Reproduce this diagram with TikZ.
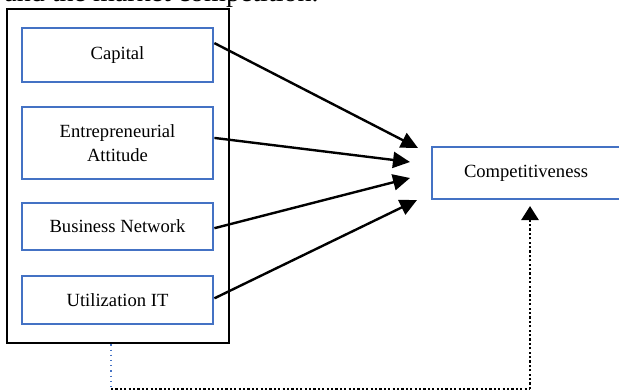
\documentclass[tikz,border=0pt]{standalone}
\usepackage{fontspec}
\setmainfont{Liberation Serif}
\usetikzlibrary{arrows.meta}
\definecolor{boxblue}{HTML}{4472C4}

\begin{document}
\begin{tikzpicture}[x=0.5pt, y=-0.5pt,
    factor/.style={draw=boxblue, line width=1.4pt, minimum width=95.5pt, align=center,
                   font=\fontsize{9.3}{12}\selectfont, inner sep=0pt},
    frame/.style={draw=black, line width=1.3pt, minimum width=111pt, minimum height=167pt},
    link/.style={line width=1.2pt, -{Triangle[length=8.5pt, width=8pt]}},
    dotline/.style={line width=1.3pt, dash pattern=on 1.1pt off 1.1pt}]
    \useasboundingbox (0,0) rectangle (619,391);
    \clip (0,0) rectangle (619,391);
    % cut off line of the text above
    \node[anchor=base west, inner sep=0pt, font=\fontsize{14}{16}\selectfont] (head) at (4,2) {and the market competition.};
    % independent variables
    \node[frame] (group) at (118,176) {};
    \node[factor, minimum height=27pt] (cap) at (117.5,55) {Capital};
    \node[factor, minimum height=36pt] (ent) at (117.5,143) {Entrepreneurial\\Attitude};
    \node[factor, minimum height=23.5pt] (net) at (117.5,226.5) {Business Network};
    \node[factor, minimum height=24pt] (uit) at (117.5,300) {Utilization IT};
    % dependent variable
    \node[factor, minimum width=94pt, minimum height=26pt] (comp) at (526,173) {Competitiveness};
    \coordinate (t1) at (418,148);
    \coordinate (t2) at (410,162);
    \coordinate (t3) at (410,178);
    \coordinate (t4) at (417,200);
    \coordinate (ctip) at (530,206);
    \coordinate (bend) at (111,389);
    \coordinate (corner) at (530,389);
    \draw[link] (cap.7) -- (t1);
    \draw[link] (ent.3) -- (t2);
    \draw[link] (net.-1) -- (t3);
    \draw[link] (uit.1) -- (t4);
    % simultaneous effect
    \draw[boxblue, line width=0.6pt, dotted] ([xshift=-3.5pt]group.south) -- (bend);
    \draw[dotline] (bend) -- (corner);
    \draw[dotline, -{Triangle[length=7pt, width=8.5pt]}] (corner) -- (ctip);
\end{tikzpicture}
\end{document}
